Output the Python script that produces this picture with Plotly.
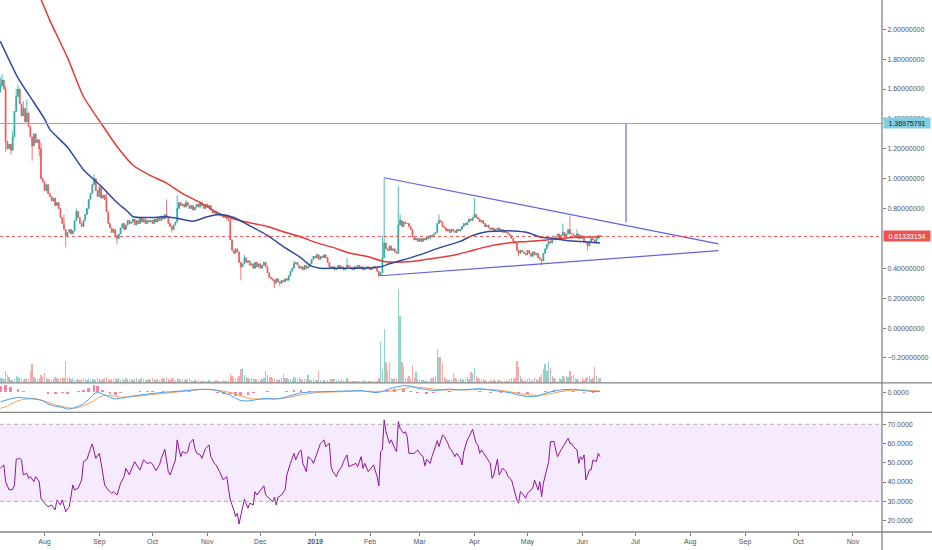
import numpy as np
import pandas as pd
import plotly.graph_objects as go

START = "2018-07-07"

# ---------------- daily candles (close), 2018-07-07 .. 2019-06-11 ----------------
close = [
    1.62, 1.66, 1.60, 1.25, 1.20, 1.23, 1.19, 1.28, 1.45, 1.55,
    1.60, 1.50, 1.42, 1.47, 1.38, 1.44, 1.35, 1.28, 1.22, 1.30,
    1.24, 1.26, 1.20, 1.00, 0.98, 0.92, 0.96, 0.90, 0.88, 0.85,
    0.87, 0.82, 0.84, 0.80, 0.74, 0.70, 0.66, 0.62, 0.64, 0.66,
    0.63, 0.65, 0.72, 0.78, 0.74, 0.70, 0.68, 0.72, 0.76, 0.80,
    0.86, 0.90, 0.96, 1.00, 0.92, 0.88, 0.94, 0.87, 0.89, 0.86,
    0.78, 0.70, 0.67, 0.64, 0.66, 0.62, 0.60, 0.63, 0.67, 0.70,
    0.66, 0.69, 0.72, 0.70, 0.71, 0.73, 0.69, 0.72, 0.70, 0.74,
    0.71, 0.73, 0.70, 0.72, 0.71, 0.72, 0.70, 0.73, 0.71, 0.74,
    0.72, 0.75, 0.73, 0.76, 0.74, 0.70, 0.68, 0.66, 0.69, 0.71,
    0.80, 0.84, 0.82, 0.83, 0.81, 0.84, 0.82, 0.80, 0.82, 0.79,
    0.81, 0.83, 0.81, 0.84, 0.82, 0.80, 0.83, 0.81, 0.82, 0.79,
    0.77, 0.78, 0.76, 0.77, 0.75, 0.76, 0.74, 0.75, 0.73, 0.72,
    0.59, 0.52, 0.50, 0.53, 0.51, 0.44, 0.41, 0.43, 0.47, 0.44,
    0.45, 0.42, 0.43, 0.40, 0.44, 0.41, 0.43, 0.40, 0.42, 0.44,
    0.41, 0.37, 0.34, 0.33, 0.32, 0.30, 0.33, 0.31, 0.30, 0.32,
    0.31, 0.33, 0.32, 0.35, 0.38, 0.40, 0.43, 0.44, 0.42, 0.40,
    0.41, 0.39, 0.42, 0.40, 0.41, 0.43, 0.46, 0.48, 0.47, 0.49,
    0.46, 0.48, 0.47, 0.49, 0.47, 0.44, 0.41, 0.40, 0.41, 0.39,
    0.40, 0.42, 0.40, 0.41, 0.39, 0.40, 0.42, 0.41, 0.40, 0.39,
    0.41, 0.40, 0.42, 0.40, 0.41, 0.39, 0.40, 0.41, 0.40, 0.39,
    0.40, 0.41, 0.40, 0.38, 0.35, 0.37, 0.47, 0.57, 0.53, 0.52,
    0.55, 0.52, 0.53, 0.51, 0.50, 0.69, 0.72, 0.68, 0.71, 0.70,
    0.70, 0.68, 0.66, 0.61, 0.59, 0.60, 0.58, 0.60, 0.58, 0.60,
    0.59, 0.61, 0.60, 0.62, 0.61, 0.63, 0.64, 0.70, 0.72, 0.71,
    0.68, 0.67, 0.65, 0.66, 0.64, 0.66, 0.65, 0.64, 0.66, 0.65,
    0.66, 0.68, 0.70, 0.69, 0.71, 0.73, 0.72, 0.74, 0.76, 0.74,
    0.73, 0.71, 0.72, 0.70, 0.68, 0.69, 0.67, 0.66, 0.67, 0.65,
    0.66, 0.67, 0.65, 0.66, 0.64, 0.65, 0.64, 0.63, 0.62, 0.60,
    0.58, 0.57, 0.52, 0.50, 0.52, 0.51, 0.50, 0.49, 0.52, 0.50,
    0.48, 0.51, 0.49, 0.50, 0.47, 0.46, 0.45, 0.50, 0.53, 0.56,
    0.58, 0.57, 0.60, 0.59, 0.61, 0.63, 0.60, 0.62, 0.64, 0.61,
    0.63, 0.66, 0.63, 0.63, 0.62, 0.61, 0.63, 0.60, 0.62, 0.60,
    0.58, 0.57, 0.55, 0.58, 0.60, 0.59, 0.57, 0.60, 0.62, 0.61333154,
]
first_open = 1.58
high_wick = {0: 1.68, 1: 1.70, 2: 1.66, 3: 1.62, 7: 1.32, 9: 1.60, 10: 1.63,
             12: 1.50, 13: 1.52, 15: 1.53, 23: 1.24, 36: 0.76, 43: 0.80,
             53: 1.03, 56: 0.96, 60: 0.90, 94: 0.86, 100: 0.89, 105: 0.86,
             130: 0.74, 138: 0.49, 166: 0.45, 179: 0.50, 196: 0.47, 216: 0.62,
             217: 1.007, 225: 0.95, 226: 0.76, 248: 0.76, 268: 0.87, 318: 0.70,
             322: 0.75, 326: 0.66}
low_wick = {3: 1.18, 6: 1.16, 18: 1.12, 22: 1.15, 37: 0.54, 66: 0.56, 97: 0.64,
            136: 0.32, 155: 0.27, 158: 0.28, 214: 0.34, 293: 0.48, 306: 0.42,
            332: 0.52}

# volume (relative units)
volume = [
    5, 5, 4, 12, 8, 6, 3, 3, 4, 7,
    6, 5, 4, 3, 4, 5, 4, 12, 19, 6,
    4, 4, 5, 8, 6, 10, 5, 4, 4, 3,
    4, 6, 5, 4, 5, 6, 5, 22, 5, 6,
    4, 5, 3, 3, 4, 3, 4, 5, 4, 3,
    5, 3, 4, 4, 3, 5, 4, 3, 4, 5,
    6, 4, 3, 4, 3, 5, 4, 5, 3, 4,
    3, 5, 4, 3, 4, 3, 4, 5, 3, 4,
    6, 4, 3, 3, 4, 3, 5, 4, 3, 4,
    3, 4, 5, 4, 6, 4, 3, 5, 4, 3,
    5, 4, 3, 4, 3, 4, 3, 5, 3, 2,
    3, 2, 3, 2, 2, 3, 2, 2, 3, 2,
    2, 2, 3, 2, 2, 2, 3, 2, 2, 3,
    9, 7, 5, 4, 5, 7, 14, 15, 8, 6,
    5, 4, 5, 4, 4, 4, 3, 3, 4, 5,
    12, 8, 6, 6, 5, 4, 3, 3, 4, 5,
    9, 5, 5, 4, 4, 3, 6, 5, 4, 6,
    4, 4, 4, 4, 8, 3, 3, 4, 3, 3,
    12, 3, 2, 3, 2, 3, 2, 4, 4, 4,
    3, 3, 2, 4, 3, 2, 5, 3, 2, 2,
    2, 2, 2, 2, 2, 2, 3, 2, 2, 2,
    2, 2, 2, 2, 5, 41, 14, 54, 21, 12,
    21, 5, 4, 5, 5, 94, 67, 21, 16, 5,
    5, 7, 4, 18, 5, 11, 4, 3, 3, 3,
    2, 3, 2, 4, 5, 6, 7, 34, 26, 26,
    20, 6, 4, 3, 3, 4, 10, 5, 4, 3,
    5, 3, 4, 4, 6, 4, 11, 10, 15, 7,
    5, 4, 3, 4, 3, 2, 2, 4, 2, 3,
    2, 3, 3, 2, 2, 2, 3, 2, 4, 5,
    4, 5, 22, 16, 7, 4, 2, 3, 4, 5,
    2, 4, 5, 4, 3, 6, 9, 14, 19, 12,
    21, 15, 7, 5, 4, 2, 5, 4, 7, 5,
    7, 6, 12, 7, 8, 5, 4, 3, 2, 5,
    3, 5, 6, 7, 4, 5, 16, 7, 4, 5,
]

# moving averages (day offset, value)
ma_fast_day = [0, 10, 19, 25, 28, 38, 47, 57, 66, 72, 75, 85, 94, 104, 109, 117, 124,
               132, 141, 151, 160, 170, 175, 181, 188, 198, 207, 215, 220, 226, 237,
               249, 260, 267, 275, 283, 290, 298, 305, 313, 321, 328, 339]
ma_fast_val = [1.92, 1.675, 1.51, 1.40, 1.33, 1.21, 1.06, 0.95, 0.84, 0.78, 0.745, 0.74,
               0.745, 0.725, 0.715, 0.745, 0.76, 0.74, 0.685, 0.62, 0.545, 0.47, 0.42,
               0.40, 0.40, 0.40, 0.402, 0.41, 0.43, 0.45, 0.49, 0.54, 0.58, 0.62, 0.645,
               0.65, 0.65, 0.64, 0.61, 0.60, 0.585, 0.58, 0.57]
ma_slow_day = [20, 23, 28, 38, 47, 57, 66, 75, 85, 94, 103, 113, 123, 132, 141, 151,
               160, 170, 179, 188, 198, 207, 217, 222, 232, 241, 253, 264, 275, 287,
               298, 309, 321, 332, 339]
ma_slow_val = [2.27, 2.20, 2.06, 1.81, 1.55, 1.37, 1.215, 1.09, 1.02, 0.97, 0.90, 0.84,
               0.77, 0.73, 0.705, 0.68, 0.645, 0.61, 0.57, 0.54, 0.50, 0.48, 0.445,
               0.44, 0.445, 0.46, 0.48, 0.51, 0.545, 0.57, 0.58, 0.59, 0.605, 0.61, 0.61]

# MACD (day offset, macd, signal)
macd_day = [0, 3, 6, 10, 13, 17, 21, 24, 27, 31, 35, 38, 41, 44, 47, 50, 53, 55, 58, 62,
            65, 68, 72, 75, 79, 83, 86, 92, 98, 103, 107, 113, 118, 123, 126, 130, 133,
            136, 140, 143, 147, 151, 154, 158, 162, 166, 170, 175, 181, 192, 204, 212,
            215, 219, 223, 228, 232, 236, 241, 245, 249, 254, 260, 266, 271, 277, 283,
            288, 293, 298, 304, 308, 313, 318, 324, 330, 335, 339]
macd_val = [-0.095, -0.078, -0.064, -0.050, -0.057, -0.060, -0.070, -0.084, -0.117, -0.140,
            -0.150, -0.170, -0.160, -0.140, -0.117, -0.070, -0.017, 0.000, -0.017, -0.050,
            -0.067, -0.060, -0.043, -0.037, -0.027, -0.017, -0.010, 0.000, 0.007, 0.017,
            0.023, 0.030, 0.030, 0.017, -0.003, -0.027, -0.060, -0.084, -0.087, -0.077,
            -0.067, -0.060, -0.067, -0.064, -0.043, -0.020, -0.005, 0.003, 0.005, 0.007,
            0.017, -0.003, 0.003, 0.030, 0.050, 0.067, 0.063, 0.040, 0.023, 0.017, 0.023,
            0.033, 0.023, 0.030, 0.037, 0.023, 0.010, -0.003, -0.027, -0.043, -0.037,
            -0.010, 0.013, 0.027, 0.030, 0.017, 0.007, 0.010]
signal_val = [-0.160, -0.145, -0.117, -0.084, -0.070, -0.064, -0.067, -0.080, -0.100, -0.125,
              -0.143, -0.152, -0.160, -0.154, -0.137, -0.115, -0.085, -0.058, -0.034, -0.030,
              -0.040, -0.048, -0.048, -0.042, -0.034, -0.027, -0.021, -0.012, -0.003, 0.008,
              0.017, 0.027, 0.030, 0.022, 0.012, -0.003, -0.020, -0.040, -0.058, -0.067,
              -0.070, -0.068, -0.067, -0.064, -0.055, -0.040, -0.027, -0.010, 0.000, 0.006,
              0.012, 0.009, 0.007, 0.010, 0.018, 0.040, 0.055, 0.052, 0.040, 0.030, 0.025,
              0.023, 0.026, 0.028, 0.030, 0.028, 0.021, 0.008, -0.008, -0.025, -0.033,
              -0.025, -0.008, 0.012, 0.022, 0.022, 0.015, 0.013]

# RSI (day offset, value)
rsi_day = [0, 2, 3, 5, 7, 8, 9, 11, 12, 13, 15, 16, 17, 19, 20, 22, 23, 25, 27, 29, 31, 32,
           34, 35, 37, 39, 41, 42, 44, 46, 47, 49, 51, 52, 54, 56, 57, 59, 61, 63, 64, 66,
           68, 70, 71, 73, 74, 76, 77, 79, 81, 83, 85, 86, 88, 90, 91, 93, 95, 96, 98, 99,
           100, 102, 103, 105, 106, 107, 109, 110, 111, 113, 114, 116, 118, 119, 121, 122,
           124, 126, 128, 130, 132, 133, 134, 135, 136, 137, 138, 140, 141, 143, 144, 145,
           147, 149, 150, 152, 154, 155, 156, 157, 159, 161, 162, 164, 166, 167, 169,
           170, 171, 173, 174, 176, 177, 179, 181, 183, 184, 186, 187, 188, 190, 191, 193,
           194, 196, 197, 199, 201, 202, 204, 205, 206, 208, 210, 211, 213, 214, 215, 216,
           217, 218, 220, 221, 223, 224, 225, 226, 228, 229, 230, 231, 234, 236, 237, 239,
           240, 241, 243, 244, 246, 247, 248, 250, 251, 253, 254, 255, 257, 258, 260, 261,
           262, 264, 265, 267, 268, 269, 270, 271, 272, 274, 275, 277, 278, 279, 281, 282,
           284, 286, 287, 289, 290, 292, 293, 294, 295, 297, 298, 300, 301, 302, 304, 305,
           306, 307, 309, 310, 311, 313, 314, 315, 317, 318, 319, 321, 322, 323, 324, 326,
           327, 328, 329, 330, 331, 333, 334, 335, 337, 338, 339]
rsi_val = [47.1, 48.9, 40.2, 35.9, 36.2, 38.5, 51.8, 52.3, 51.5, 43.7, 44.5, 42.0, 42.8,
           40.2, 42.8, 40.2, 31.6, 29.0, 27.2, 28.1, 25.5, 30.7, 28.1, 30.7, 24.6, 27.2,
           38.5, 35.9, 36.8, 41.1, 50.6, 51.8, 57.5, 59.8, 52.3, 54.9, 49.7, 38.5, 35.9,
           34.2, 35.0, 33.3, 39.4, 42.8, 47.1, 43.7, 46.3, 50.6, 48.9, 46.3, 51.5, 49.7,
           50.1, 49.4, 45.9, 48.9, 52.3, 57.0, 45.4, 43.7, 48.9, 51.5, 61.9, 53.2, 55.8,
           54.9, 55.8, 60.1, 62.2, 57.5, 54.9, 54.1, 52.3, 57.5, 59.3, 53.2, 49.7, 48.9,
           45.4, 41.1, 42.8, 30.7, 25.5, 22.0, 23.8, 18.2, 22.9, 27.2, 31.0, 26.4, 29.0,
           28.1, 35.0, 33.3, 35.9, 38.0, 33.3, 31.6, 29.8, 32.1, 28.1, 32.1, 33.3, 35.9,
           43.7, 49.7, 54.9, 51.5, 55.8,
           56.7, 49.7, 45.4, 53.2, 51.5, 49.7, 54.9, 60.1, 61.9, 58.4, 60.1, 48.0, 45.4,
           42.8, 45.4, 48.0, 50.6, 54.1, 48.0, 48.9, 49.7, 48.0, 53.2, 47.1, 49.7, 45.4,
           48.0, 48.9, 42.8, 38.0, 55.8, 56.7, 72.3, 66.2, 60.1, 61.9, 57.5, 55.8, 71.4,
           67.9, 65.3, 66.2, 63.6, 54.9, 54.9, 56.7, 54.9, 53.2, 48.4, 51.8, 49.7, 53.2,
           58.4, 61.5, 58.4, 64.5, 63.6, 60.1, 57.5, 56.7, 53.2, 54.9, 52.3, 48.9, 55.8,
           61.9, 63.6, 67.4, 63.6, 60.1, 59.3, 54.9, 56.7, 54.1, 52.3, 49.7, 41.9, 43.7,
           51.8, 43.7, 47.1, 45.4, 42.8, 41.1, 37.6, 30.7, 29.0, 35.0, 34.2, 31.6, 34.2,
           35.9, 36.8, 41.1, 35.9, 40.2, 32.4, 39.4, 48.0, 50.6, 61.0, 61.0, 56.7, 53.2,
           56.7, 58.4, 59.3, 62.7, 60.1, 60.1, 58.4, 56.7, 49.7, 53.2, 51.8, 54.1, 41.1,
           46.3, 46.3, 51.5, 50.6, 54.9, 53.2]

# drawings (day offset, price)
target_level = 1.36975791
last_price = 0.61333154
tri_upper_day, tri_upper_val = [217, 406], [1.006, 0.564]
tri_lower_day, tri_lower_val = [215, 406], [0.350, 0.518]
leg_day, leg_val = [353.7, 353.7], [1.36975791, 0.707]

price_ticks = [-0.2, 0.0, 0.2, 0.4, 0.8, 1.0, 1.2, 1.4, 1.6, 1.8, 2.0]
rsi_ticks = [20, 30, 40, 50, 60, 70]
month_labels = ["Aug", "Sep", "Oct", "Nov", "Dec", "<b>2019</b>", "Feb", "Mar", "Apr",
                "May", "Jun", "Jul", "Aug", "Sep", "Oct", "Nov"]

# ---------------- build ----------------
base = pd.Timestamp(START)
def to_dates(days):
    return [base + pd.Timedelta(days=float(d)) for d in days]

n = len(close)
dates = to_dates(range(n))
opens = [first_open] + close[:-1]
highs = [max(o, c, high_wick.get(i, -1)) for i, (o, c) in enumerate(zip(opens, close))]
lows = [min(o, c, low_wick.get(i, 99)) for i, (o, c) in enumerate(zip(opens, close))]
vol_colors = ["rgba(38,166,154,0.5)" if c >= o else "rgba(239,83,80,0.5)"
              for o, c in zip(opens, close)]
hist = [m - s for m, s in zip(macd_val, signal_val)]

UP, DN = "#26a69a", "#ef5350"
FONT = "Liberation Sans, Arial, sans-serif"
TXT = "#50535e"

fig = go.Figure()
fig.add_trace(go.Bar(x=dates, y=volume, marker=dict(color=vol_colors, line=dict(width=0)),
                     width=0.75 * 86400000, yaxis="y4", hoverinfo="skip"))
fig.add_trace(go.Candlestick(x=dates, open=opens, high=highs, low=lows, close=close,
                             increasing=dict(line=dict(color=UP, width=0.8), fillcolor=UP),
                             decreasing=dict(line=dict(color=DN, width=0.8), fillcolor=DN),
                             whiskerwidth=0, yaxis="y", hoverinfo="skip"))
fig.add_trace(go.Scatter(x=to_dates(ma_slow_day), y=ma_slow_val, mode="lines",
                         line=dict(color="#e53935", width=1.5, shape="spline", smoothing=0.6),
                         yaxis="y"))
fig.add_trace(go.Scatter(x=to_dates(ma_fast_day), y=ma_fast_val, mode="lines",
                         line=dict(color="#2e4a9e", width=1.5, shape="spline", smoothing=0.6),
                         yaxis="y"))
# drawings
for dd, vv, col, w in [(tri_upper_day, tri_upper_val, "#6262dc", 1.2),
                       (tri_lower_day, tri_lower_val, "#6262dc", 1.2),
                       (leg_day, leg_val, "#9a8ce6", 1.6)]:
    fig.add_trace(go.Scatter(x=to_dates(dd), y=vv, mode="lines",
                             line=dict(color=col, width=w), yaxis="y", hoverinfo="skip"))

# MACD
fig.add_trace(go.Bar(x=to_dates(macd_day), y=hist, marker=dict(color="rgba(233,30,99,0.55)",
                     line=dict(width=0)), width=1.6 * 86400000, yaxis="y2"))
fig.add_trace(go.Scatter(x=to_dates(macd_day), y=signal_val, mode="lines",
                         line=dict(color="#f7a35c", width=1), yaxis="y2"))
fig.add_trace(go.Scatter(x=to_dates(macd_day), y=macd_val, mode="lines",
                         line=dict(color="#4a9ff0", width=1), yaxis="y2"))
# RSI
fig.add_trace(go.Scatter(x=to_dates(rsi_day), y=rsi_val, mode="lines",
                         line=dict(color="#8e1599", width=1), yaxis="y3"))

axis_common = dict(showgrid=False, zeroline=False, side="right", anchor="x",
                   ticks="outside", ticklen=3, tickcolor="#787b86", tickwidth=1,
                   tickfont=dict(size=7, color=TXT, family=FONT), showline=False,
                   automargin=False)

fig.update_layout(
    width=932, height=550,
    margin=dict(l=0, r=50, t=0, b=18, autoexpand=False),
    paper_bgcolor="white", plot_bgcolor="white",
    showlegend=False, bargap=0,
    font=dict(family=FONT, size=7, color=TXT),
    xaxis=dict(type="date", range=["2018-07-06 20:00", "2019-11-17 10:00"],
               domain=[0, 1], anchor="y3", showgrid=False, zeroline=False,
               rangeslider=dict(visible=False), automargin=False,
               tickvals=list(pd.date_range("2018-08-01", "2019-11-01", freq="MS")),
               ticktext=month_labels, ticks="outside", ticklen=3,
               tickcolor="#787b86", tickfont=dict(size=7, color=TXT, family=FONT),
               showline=False),
    yaxis=dict(domain=[0.2806, 1], range=[-0.366, 2.196], tickvals=price_ticks,
               tickformat=".8f", **axis_common),
    yaxis2=dict(domain=[0.2250, 0.2795], range=[-0.20, 0.09], tickvals=[0],
                tickformat=".4f", **axis_common),
    yaxis3=dict(domain=[0, 0.2250], range=[14.05, 76.23], tickvals=rsi_ticks,
                tickformat=".4f", **axis_common),
    yaxis4=dict(overlaying="y", range=[0, 382.7], visible=False, anchor="x",
                automargin=False),
)

shapes = [
    dict(type="rect", xref="paper", yref="y3", x0=0, x1=1, y0=30, y1=70,
         fillcolor="rgba(153,21,255,0.09)", line=dict(width=0), layer="below"),
    dict(type="line", xref="paper", yref="y3", x0=0, x1=1, y0=70, y1=70,
         line=dict(color="#b0b0b0", width=1, dash="4px,3px")),
    dict(type="line", xref="paper", yref="y3", x0=0, x1=1, y0=30, y1=30,
         line=dict(color="#b0b0b0", width=1, dash="4px,3px")),
    dict(type="line", xref="paper", yref="y", x0=0, x1=1, y0=target_level, y1=target_level,
         line=dict(color="#5bc0de", width=1.1)),
    dict(type="line", xref="paper", yref="y", x0=0, x1=1, y0=last_price, y1=last_price,
         line=dict(color="#ef5350", width=1, dash="dot")),
]
for py in [0.2803, 0.2250, 0.0]:
    shapes.append(dict(type="line", xref="paper", yref="paper", x0=0, x1=1.06,
                       y0=py, y1=py, line=dict(color="#858585", width=1.3)))
shapes.append(dict(type="line", xref="paper", yref="paper", x0=1, x1=1, y0=-0.04, y1=1,
                   line=dict(color="#858585", width=1.3)))
fig.update_layout(shapes=shapes)

fig.add_annotation(x=1, xref="paper", xanchor="left", y=target_level, yref="y",
                   text="1.36975791", showarrow=False, bgcolor="#7ecfe1",
                   font=dict(size=7, color="#131722", family=FONT),
                   width=46, height=10, borderpad=0, xshift=1)
fig.add_annotation(x=1, xref="paper", xanchor="left", y=last_price, yref="y",
                   text="0.61333154", showarrow=False, bgcolor="#ef5350",
                   font=dict(size=7, color="white", family=FONT),
                   width=46, height=10, borderpad=0, xshift=1)

fig.write_html("out.html", config={"displayModeBar": False},
               post_script="document.body.style.margin='0';document.body.style.overflow='hidden';")
